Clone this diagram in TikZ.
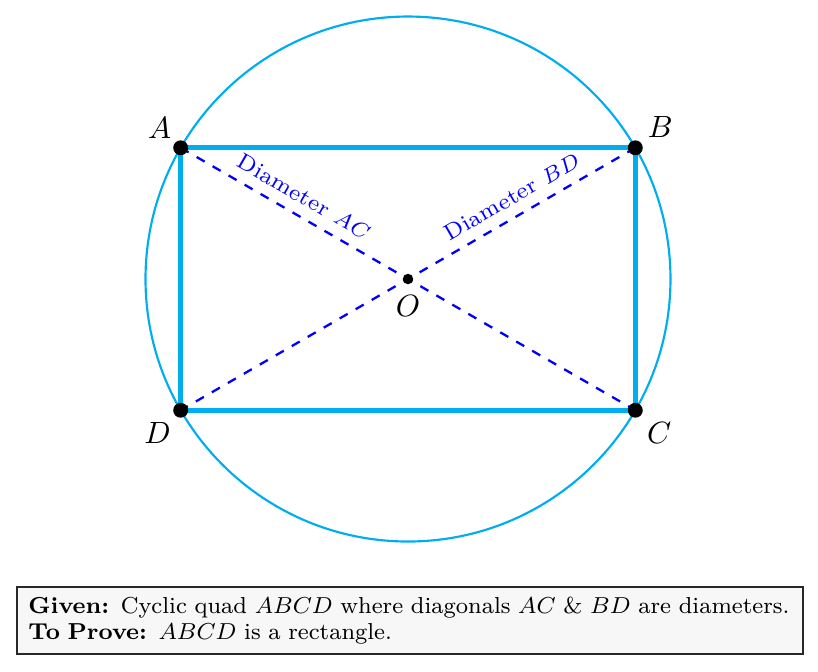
\documentclass[tikz,border=0pt]{standalone}
\usepackage{graphicx}
\usetikzlibrary{calc}
\definecolor{circcyan}{RGB}{0,174,239}
\definecolor{boxfill}{RGB}{247,247,247}
\definecolor{boxline}{RGB}{40,40,40}
\newcommand{\boxline}[1]{\scalebox{0.939}{\mbox{#1}}}
\tikzset{
  vertexdot/.style={circle,fill=black,inner sep=0pt,minimum size=0.17cm},
  centerdot/.style={circle,fill=black,inner sep=0pt,minimum size=0.12cm},
  ptlabel/.style={inner sep=0pt,font=\normalsize},
  rectside/.style={circcyan,line width=1.5pt},
  diag/.style={blue,dashed,line width=0.75pt},
  diaglabel/.style={blue,font=\fontsize{7.3}{8}\selectfont,sloped,above},
  infobox/.style={draw=boxline,fill=boxfill,line width=0.55pt,inner xsep=0.13cm,
    text width=8.72cm,align=left,minimum height=0.743cm,
    font=\fontsize{8}{8.2}\selectfont}
}
\begin{document}
\begin{tikzpicture}
\useasboundingbox (-4.663,-4.491) rectangle (4.686,3.189);
\coordinate (O) at (0,0);
\draw[circcyan,line width=0.7pt] (O) circle (3cm);
\coordinate (A) at (150:3);
\coordinate (B) at (30:3);
\coordinate (C) at (-30:3);
\coordinate (D) at (210:3);
\draw[diag] (A) -- (C) node[diaglabel,pos=0.25] {Diameter $AC$};
\draw[diag] (B) -- (D) node[diaglabel,pos=0.25] {Diameter $BD$};
\draw[rectside] (A) -- (B) -- (C) -- (D) -- cycle;
\node[vertexdot] (dA) at (A) {};
\node[vertexdot] (dB) at (B) {};
\node[vertexdot] (dC) at (C) {};
\node[vertexdot] (dD) at (D) {};
\node[centerdot] (dO) at (O) {};
\node[ptlabel] (lA) at ($(A)+(-0.24,0.23)$) {$A$};
\node[ptlabel] (lB) at ($(B)+(0.286,0.24)$) {$B$};
\node[ptlabel] (lC) at ($(C)+(0.274,-0.263)$) {$C$};
\node[ptlabel] (lD) at ($(D)+(-0.263,-0.263)$) {$D$};
\node[ptlabel] (lO) at ($(O)+(0,-0.309)$) {$O$};
\node[infobox] (box) at (0.0225,-3.903) {\boxline{\textbf{Given:} Cyclic quad $ABCD$ where diagonals $AC$ \& $BD$ are diameters.}\\
\boxline{\textbf{To Prove:} $ABCD$ is a rectangle.}};
\end{tikzpicture}
\end{document}
